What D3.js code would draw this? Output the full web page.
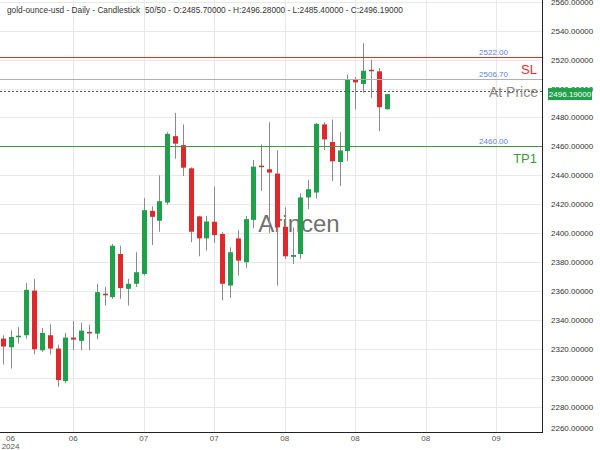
<!DOCTYPE html>
<html>
<head>
<meta charset="utf-8">
<script src="https://cdn.jsdelivr.net/npm/d3@7"></script>
<style>
  body { margin: 0; background: #fff; }
  svg { display: block; font-family: "Liberation Sans", Arial, sans-serif; }
</style>
</head>
<body>
<svg id="chart" width="600" height="450"></svg>
<script>
// daily candles, oldest first (50 bars)
const opens  = [2327.1, 2321.1, 2328.0, 2329.4, 2360.3, 2319.0, 2329.4, 2320.2, 2297.7, 2327.8,
                2325.5, 2331.7, 2330.5, 2358.1, 2355.8, 2385.6, 2361.5, 2365.0, 2371.8, 2415.4,
                2408.6, 2421.2, 2467.1, 2460.9, 2444.8, 2411.6, 2396.4, 2407.9, 2399.4, 2363.8,
                2396.4, 2379.9, 2409.2, 2446.7, 2444.2, 2441.2, 2404.4, 2383.6, 2385.6, 2424.7,
                2428.1, 2475.2, 2463.0, 2449.2, 2456.8, 2506.1, 2503.2, 2513.0, 2511.9, 2485.7];
const highs  = [2329.4, 2332.8, 2335.1, 2365.6, 2368.4, 2334.4, 2336.9, 2322.9, 2331.0, 2339.3,
                2338.1, 2336.7, 2365.0, 2362.7, 2392.5, 2391.3, 2368.4, 2386.8, 2424.2, 2418.5,
                2440.0, 2469.8, 2483.2, 2475.2, 2445.5, 2412.0, 2412.0, 2432.2, 2400.6, 2390.2,
                2402.1, 2412.0, 2450.6, 2461.4, 2476.7, 2457.2, 2417.8, 2404.0, 2427.6, 2436.8,
                2476.3, 2476.7, 2478.6, 2469.8, 2509.6, 2508.0, 2531.4, 2519.9, 2514.2, 2496.28];
const lows   = [2309.2, 2306.4, 2323.6, 2327.1, 2316.3, 2317.9, 2316.1, 2293.8, 2296.1, 2319.0,
                2319.0, 2319.0, 2326.6, 2350.0, 2354.6, 2354.6, 2350.0, 2362.7, 2370.7, 2391.8,
                2401.0, 2419.6, 2451.5, 2439.5, 2393.7, 2384.0, 2387.9, 2393.2, 2353.5, 2355.3,
                2370.7, 2376.0, 2403.3, 2429.2, 2400.0, 2363.8, 2382.2, 2378.7, 2382.2, 2416.6,
                2424.0, 2457.5, 2436.1, 2432.7, 2449.9, 2485.5, 2497.0, 2493.5, 2470.5, 2485.4];
const closes = [2321.6, 2328.2, 2329.1, 2360.8, 2319.7, 2331.0, 2320.2, 2298.4, 2327.8, 2326.4,
                2332.6, 2330.7, 2359.2, 2357.2, 2391.3, 2362.0, 2365.0, 2373.0, 2415.9, 2411.3,
                2422.1, 2468.7, 2461.9, 2445.3, 2401.0, 2396.4, 2408.1, 2398.7, 2365.0, 2386.8,
                2381.0, 2409.7, 2446.0, 2446.0, 2441.9, 2404.0, 2384.0, 2384.9, 2424.7, 2430.4,
                2475.6, 2464.8, 2449.7, 2457.2, 2506.6, 2504.3, 2512.3, 2512.5, 2487.1, 2496.19];

// x-axis ticks (bar index -> month label)
const xTickIdx    = [1, 9, 18, 27, 36, 45, 54, 63];
const xTickLabels = ['06', '06', '07', '07', '08', '08', '08', '09'];
const yTicks = d3.range(2260, 2561, 20);

// trade levels
const levels = [
  { name: 'SL',  value: 2522.00, color: '#e0302e', tag: '2522.00' },
  { name: '',    value: 2506.70, color: '#b0b0b0', tag: '2506.70' },
  { name: 'TP1', value: 2460.00, color: '#3b9a3b', tag: '2460.00' }
];
const atPrice = 2498.6;
const lastPrice = 2496.19;

const plotR = 542, plotB = 432;
const up = '#1fa04a', down = '#e0282c';

const svg = d3.select('#chart');

const x = d3.scaleLinear().domain([0, 49]).range([2.7, 386.5]);
const y = d3.scaleLinear().domain([2260, 2560]).range([435.6, 1.8]);

svg.append('defs').append('clipPath').attr('id', 'plot-clip')
  .append('rect').attr('x', 0).attr('y', 0).attr('width', plotR).attr('height', plotB);

// grid
const grid = svg.append('g').attr('clip-path', 'url(#plot-clip)');
grid.selectAll('line.hg').data(yTicks).join('line')
  .attr('x1', 0).attr('x2', plotR)
  .attr('y1', d => Math.round(y(d)) + 0.5).attr('y2', d => Math.round(y(d)) + 0.5)
  .attr('stroke', '#e8e8e8');
grid.selectAll('line.vg').data(xTickIdx.slice(1)).join('line')
  .attr('y1', 0).attr('y2', plotB)
  .attr('x1', d => Math.round(x(d)) + 0.5).attr('x2', d => Math.round(x(d)) + 0.5)
  .attr('stroke', '#e8e8e8');

// watermark
svg.append('text')
  .attr('x', 299).attr('y', 232)
  .attr('text-anchor', 'middle')
  .attr('font-size', 24)
  .attr('fill', '#555').attr('fill-opacity', 0.85)
  .text('Arincen');

// candles
const candles = d3.range(opens.length).map(i => ({
  i, o: opens[i], h: highs[i], l: lows[i], c: closes[i]
}));
const cg = svg.append('g').attr('clip-path', 'url(#plot-clip)');
const bar = cg.selectAll('g.candle').data(candles).join('g').attr('class', 'candle');
bar.append('line')
  .attr('x1', d => Math.round(x(d.i)) + 0.5).attr('x2', d => Math.round(x(d.i)) + 0.5)
  .attr('y1', d => y(d.h)).attr('y2', d => y(d.l))
  .attr('stroke', '#8a8a8a');
bar.append('rect')
  .attr('x', d => Math.round(x(d.i)) - 2)
  .attr('width', 5)
  .attr('y', d => y(Math.max(d.o, d.c)))
  .attr('height', d => Math.max(1.5, Math.abs(y(d.o) - y(d.c))))
  .attr('fill', d => d.c >= d.o ? up : down);

// level lines
const lv = svg.append('g');
levels.forEach(d => {
  const yy = Math.round(y(d.value)) + 0.5;
  lv.append('line').attr('x1', 0).attr('x2', plotR).attr('y1', yy).attr('y2', yy)
    .attr('stroke', d.color).attr('stroke-width', 1);
  lv.append('text').attr('x', 508).attr('y', yy - 3)
    .attr('text-anchor', 'end').attr('font-size', 8).attr('fill', '#5b7fe0')
    .text(d.tag);
  if (d.name) {
    lv.append('text').attr('x', 537).attr('y', yy + 16)
      .attr('text-anchor', 'end').attr('font-size', 13).attr('fill', d.color)
      .text(d.name);
  }
});

// at-price level (dotted)
const ya = Math.round(y(atPrice)) + 0.5;
lv.append('line').attr('x1', 0).attr('x2', plotR).attr('y1', ya).attr('y2', ya)
  .attr('stroke', '#555').attr('stroke-dasharray', '2,2');
lv.append('text').attr('x', 538).attr('y', ya + 5)
  .attr('text-anchor', 'end').attr('font-size', 14).attr('fill', '#8a8a8a')
  .text('At Price');

// axes frame
svg.append('line').attr('x1', plotR + 0.5).attr('x2', plotR + 0.5).attr('y1', 0).attr('y2', plotB + 1)
  .attr('stroke', '#222');
svg.append('line').attr('x1', 0).attr('x2', plotR + 1).attr('y1', plotB + 0.5).attr('y2', plotB + 0.5)
  .attr('stroke', '#222');

// right axis labels
svg.append('g').selectAll('text').data(yTicks).join('text')
  .attr('x', 551)
  .attr('y', d => Math.min(y(d), 428) + 3)
  .attr('font-size', 8).attr('fill', '#333')
  .text(d => d3.format('.5f')(d));

// last price tag
const yp = y(lastPrice);
svg.append('rect').attr('x', 548).attr('y', yp - 6).attr('width', 44).attr('height', 12)
  .attr('fill', up);
svg.append('text').attr('x', 570).attr('y', yp + 3)
  .attr('text-anchor', 'middle').attr('font-size', 8).attr('fill', '#fff')
  .text(d3.format('.5f')(lastPrice));

// bottom axis labels
svg.append('g').selectAll('text').data(xTickIdx).join('text')
  .attr('x', d => x(d))
  .attr('y', 441)
  .attr('text-anchor', 'middle').attr('font-size', 8).attr('fill', '#555')
  .text((d, i) => xTickLabels[i]);
svg.append('text').attr('x', x(xTickIdx[0])).attr('y', 449)
  .attr('text-anchor', 'middle').attr('font-size', 8).attr('fill', '#555')
  .text('2024');

// header
svg.append('text').attr('x', 7).attr('y', 13).attr('font-size', 8.3).attr('fill', '#333')
  .text('gold-ounce-usd - Daily - Candlestick');
svg.append('text').attr('x', 145).attr('y', 13).attr('font-size', 8.3).attr('fill', '#333')
  .text('50/50 - O:2485.70000 - H:2496.28000 - L:2485.40000 - C:2496.19000');
</script>
</body>
</html>
